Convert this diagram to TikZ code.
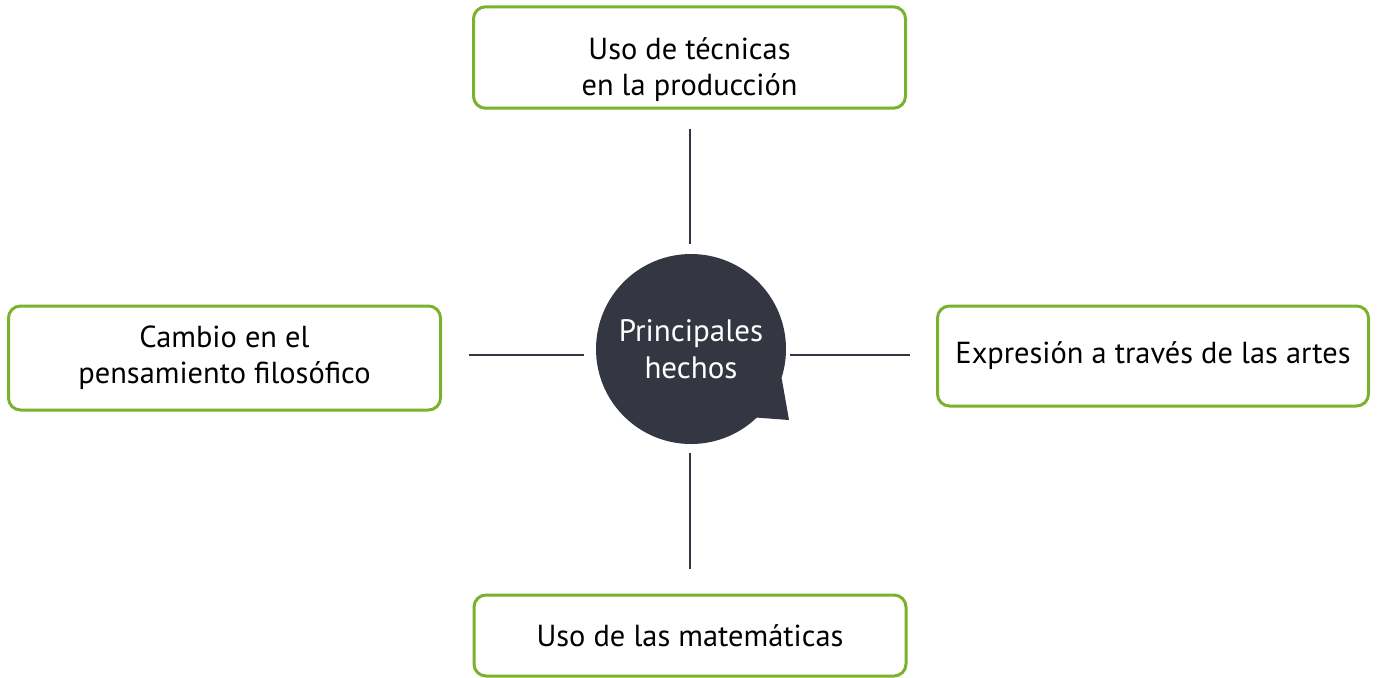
\documentclass[tikz,border=0pt]{standalone}
\usepackage{fontspec}
\setmainfont{PT Sans}
\usetikzlibrary{positioning,calc,backgrounds}
\definecolor{leafgreen}{RGB}{122,178,46}
\definecolor{slate}{RGB}{52,55,65}
\tikzset{
  topic/.style={draw=leafgreen, line width=1.5pt, rounded corners=6pt, fill=white,
    minimum width=216pt, align=center, font=\fontsize{15.2}{18}\selectfont, text=black},
  link/.style={draw=slate, line width=1.1pt},
  hubnode/.style={circle, fill=slate, minimum size=95pt, inner sep=0pt, align=center,
    text=white, font=\fontsize{15.5}{18.5}\selectfont}
}
\begin{document}
\begin{tikzpicture}[line cap=butt,line join=round,x=0.5pt,y=-0.5pt]
  \useasboundingbox (0,0) rectangle (1377,677);
  % centre
  \node[hubnode] (hub) at (691,349) {Principales\\hechos};
  \begin{pgfonlayer}{background}
    \fill[slate] (hub.-18) -- (789,420) -- (hub.-46) -- (hub.center) -- cycle;
  \end{pgfonlayer}
  % topics
  \node[topic, minimum height=49.5pt] (tecnicas) at (689.5,57.5) {\rule{0pt}{23pt}Uso de técnicas\\en la producción};
  \node[topic, minimum height=52pt] (filosofia) at (224.5,358) {Cambio en el\\pensamiento filosófico};
  \node[topic, minimum height=50pt, minimum width=215.5pt] (artes) at (1153,356) {Expresión a través de las artes};
  \node[topic, minimum height=40.5pt] (mates) at (690,635.5) {Uso de las matemáticas};
  % connectors
  \draw[link, shorten <=9.5pt, shorten >=5pt] (tecnicas.south -| hub.north) ++(-1,0) coordinate (t0) -- (t0 |- hub.north);
  \draw[link, shorten <=4.5pt, shorten >=12.5pt] ([xshift=-0.5pt]hub.south) coordinate (b0) -- (b0 |- mates.north);
  \draw[link, shorten <=6pt, shorten >=13.5pt] ([yshift=-3pt]hub.west) coordinate (l0) -- (l0 -| filosofia.east);
  \draw[link, shorten <=2pt, shorten >=13pt] ([yshift=-3pt]hub.east) coordinate (r0) -- (r0 -| artes.west);
\end{tikzpicture}
\end{document}
